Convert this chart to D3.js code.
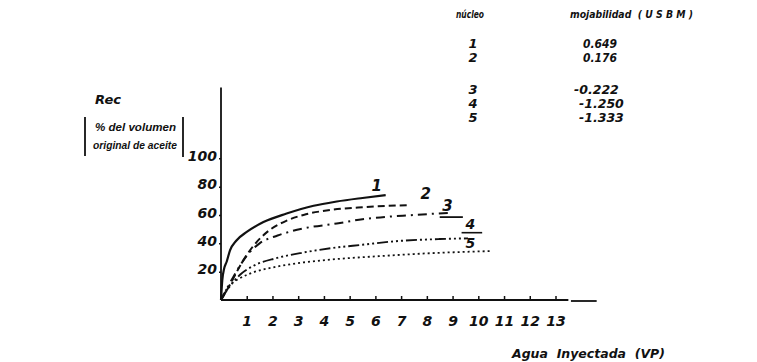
<!DOCTYPE html>
<html>
<head>
<meta charset="utf-8">
<script src="https://cdn.jsdelivr.net/npm/d3@7"></script>
<style>
  body { margin: 0; background: #fff; }
  svg text { font-family: "DejaVu Sans", "Liberation Sans", sans-serif; font-weight: bold; font-style: italic; fill: #111; }
  svg text.narrow { font-family: "Liberation Sans Narrow", "Liberation Sans", sans-serif; }
</style>
</head>
<body>
<svg id="chart" width="757" height="362"></svg>
<script>
// agua inyectada (VP) vs recuperacion (% del volumen original de aceite)
const curve1 = [[0,0],[0.05,14],[0.12,22],[0.22,27],[0.35,35],[0.6,42],[1.0,48],[1.65,55],[2.55,61],[3.6,66.5],[4.5,69.5],[5.5,72],[6.4,74]];
const curve2 = [[0,0],[0.2,6],[0.5,16],[0.8,26],[1.25,38],[1.9,49.5],[2.55,56],[3.3,60.5],[4.25,63.5],[5.5,65.5],[7.35,67]];
const curve3 = [[0,0],[0.2,7],[0.5,17],[0.8,26],[1.13,34],[1.5,40],[2.2,45.5],[3.2,50.5],[4.5,54],[5.5,57],[7.5,60],[8.9,61.5]];
const curve4 = [[0,0],[0.2,6],[0.45,12],[0.75,18],[1.25,24],[2.15,29.5],[3.2,33.5],[4.25,36.5],[5.5,39],[6.8,41.5],[8.5,43],[9.6,43.5]];
const curve5 = [[0,0],[0.1,4],[0.35,10.5],[0.75,15.5],[1.25,19.5],[2.15,23.5],[3.2,26.5],[4.25,28.5],[6.2,31],[8.1,33],[10.45,34.5]];

const xTicks = [1,2,3,4,5,6,7,8,9,10,11,12,13];
const yTicks = [20,40,60,80,100];

const nucleos = ["1","2","3","4","5"];
const mojabilidad = ["0.649","0.176","-0.222","-1.250","-1.333"];

const svg = d3.select("#chart");
const x = d3.scaleLinear().domain([0, 13]).range([221, 555.5]);
const y = d3.scaleLinear().domain([0, 100]).range([300, 158.3]);

// helper: text squeezed to a given width, like the typed original
function label(px, py, size, str, width) {
  const t = svg.append("text")
    .attr("x", px).attr("y", py)
    .attr("font-size", size)
    .attr("xml:space", "preserve")
    .text(str);
  if (width) t.attr("textLength", width).attr("lengthAdjust", "spacingAndGlyphs");
  return t;
}

// axes
svg.append("line")
  .attr("x1", x(0)).attr("x2", x(0))
  .attr("y1", y(0)).attr("y2", y(150))
  .attr("stroke", "#111").attr("stroke-width", 1.8);
svg.append("line")
  .attr("x1", x(0)).attr("x2", x(13.5))
  .attr("y1", y(0)).attr("y2", y(0))
  .attr("stroke", "#111").attr("stroke-width", 1.8);
svg.append("line")
  .attr("x1", x(13.6)).attr("x2", x(14.6))
  .attr("y1", y(0) + 1).attr("y2", y(0) + 1)
  .attr("stroke", "#111").attr("stroke-width", 1.8);

const xAxis = svg.append("g")
  .attr("transform", `translate(0,${y(0)})`)
  .call(d3.axisBottom(x).tickValues(xTicks).tickSize(-4).tickPadding(16).tickFormat(d3.format("d")));
xAxis.select(".domain").remove();
xAxis.selectAll("line").attr("stroke", "#111").attr("stroke-width", 1.5);
xAxis.selectAll("text")
  .attr("font-size", 14)
  .style("font-family", "'DejaVu Sans', sans-serif");

const yAxis = svg.append("g")
  .attr("transform", `translate(${x(0)},0)`)
  .call(d3.axisLeft(y).tickValues(yTicks).tickSize(2).tickPadding(2));
yAxis.select(".domain").remove();
yAxis.selectAll("line").attr("stroke", "#111").attr("stroke-width", 1.5);
yAxis.selectAll("text")
  .attr("font-size", 14).attr("dy", "0.15em")
  .style("font-family", "'DejaVu Sans', sans-serif");

// curves
const line = d3.line()
  .x(d => x(d[0]))
  .y(d => y(d[1]))
  .curve(d3.curveMonotoneX);

const series = [
  { pts: curve1, dash: null, w: 2.2 },
  { pts: curve2, dash: "7,4", w: 2 },
  { pts: curve3, dash: "9,5,2,5", w: 2 },
  { pts: curve4, dash: "11,3,2,3,2,3,2,3", w: 1.9 },
  { pts: curve5, dash: "2,3", w: 1.8 }
];
svg.selectAll("path.curve")
  .data(series)
  .enter()
  .append("path")
  .attr("class", "curve")
  .attr("d", d => line(d.pts))
  .attr("fill", "none")
  .attr("stroke", "#111")
  .attr("stroke-width", d => d.w)
  .attr("stroke-dasharray", d => d.dash);

// curve labels
label(x(5.85), y(77), 15, "1");
label(x(7.75), y(71.5), 15, "2");
label(x(8.6), y(63), 15, "3");
svg.append("line")
  .attr("x1", x(8.5)).attr("x2", x(9.4))
  .attr("y1", y(58.5)).attr("y2", y(58.5))
  .attr("stroke", "#111").attr("stroke-width", 1.8);
label(x(9.5), y(50), 14, "4");
svg.append("line")
  .attr("x1", x(9.35)).attr("x2", x(10.15))
  .attr("y1", y(47.5)).attr("y2", y(47.5))
  .attr("stroke", "#111").attr("stroke-width", 1.6);
label(x(9.5), y(37), 14, "5");

// axis titles
label(95, 104, 12, "Rec", 26);
label(95, 131, 11, "% del volumen", 81).attr("class", "narrow");
label(93, 149, 11, "original de aceite", 84).attr("class", "narrow");
svg.append("line").attr("x1", 85).attr("x2", 85).attr("y1", 117).attr("y2", 156).attr("stroke", "#111").attr("stroke-width", 1.8);
svg.append("line").attr("x1", 183).attr("x2", 183).attr("y1", 117).attr("y2", 157).attr("stroke", "#111").attr("stroke-width", 1.8);

label(512, 358, 12, "Agua  Inyectada  (VP)", 153);

// table of mojabilidad
label(456, 18, 11, "núcleo", 28);
label(570, 18, 11, "mojabilidad  ( U S B M )", 123);

const rowY = (i) => 48 + i * 14 + (i >= 2 ? 18 : 0);
const valX = [583, 583, 574, 579, 579];
svg.selectAll("text.nuc")
  .data(nucleos)
  .enter()
  .append("text")
  .attr("class", "nuc")
  .attr("x", 473).attr("y", (d, i) => rowY(i))
  .attr("text-anchor", "middle").attr("font-size", 13)
  .text(d => d);
svg.selectAll("text.moj")
  .data(mojabilidad)
  .enter()
  .append("text")
  .attr("class", "moj")
  .attr("x", (d, i) => valX[i]).attr("y", (d, i) => rowY(i))
  .attr("font-size", 13)
  .attr("textLength", d => d.length * 6.8 + (d[0] === "-" ? 4 : 0))
  .attr("lengthAdjust", "spacingAndGlyphs")
  .text(d => d);
</script>
</body>
</html>
